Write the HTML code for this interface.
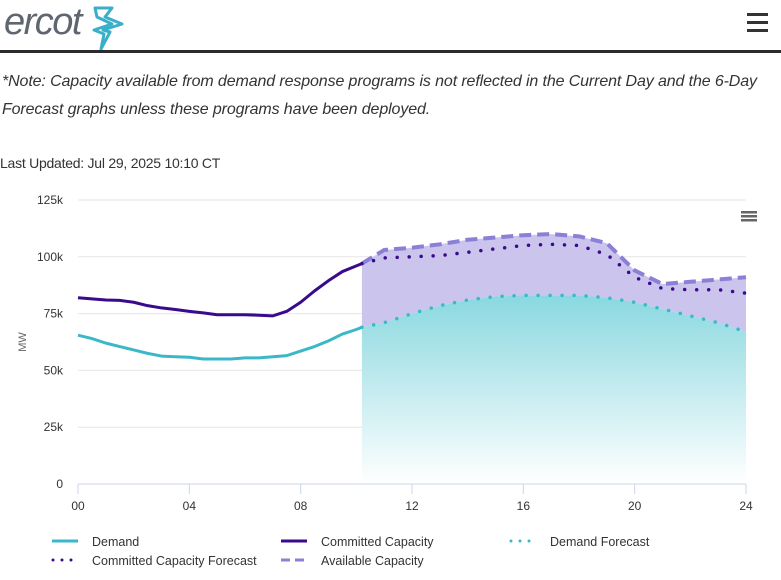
<!DOCTYPE html>
<html><head><meta charset="utf-8"><style>
body{margin:0;width:781px;height:580px;overflow:hidden;background:#fff;font-family:"Liberation Sans",sans-serif;position:relative}
.logo{position:absolute;left:4px;top:-1px;font-style:italic;font-size:38px;color:#5f6670;letter-spacing:-1.5px;line-height:46px}
.logoicon{position:absolute;left:92px;top:6px}
.rule{position:absolute;left:0;top:50px;width:781px;height:3px;background:#2b2b2b}
.menu{position:absolute;left:747px;top:13px;width:21px}
.menu div{height:3px;background:#333;margin-bottom:5px}
.note{position:absolute;left:2px;top:68px;font-style:italic;font-size:16px;line-height:28px;color:#333;width:779px;letter-spacing:-0.12px}
.upd{position:absolute;left:0;top:155px;font-size:14px;color:#333;letter-spacing:-0.25px}
svg#chart{position:absolute;left:0;top:0}
</style></head><body>
<div class="logo">ercot</div>
<svg class="logoicon" width="36" height="46" viewBox="0 0 36 46"><path d="M3 2 L20 2 L13 11 L30 18 L11 24 L18 26 L9 43 L12 28 L2 24 L20 18 L5 11 Z" fill="none" stroke="#3aafc9" stroke-width="3" stroke-linejoin="round"/></svg>
<div class="rule"></div>
<div class="menu"><div></div><div></div><div></div></div>
<div class="note">*Note: Capacity available from demand response programs is not reflected in the Current Day and the 6-Day Forecast graphs unless these programs have been deployed.</div>
<div class="upd">Last Updated: Jul 29, 2025 10:10 CT</div>
<svg id="chart" width="781" height="580"></svg>
<script>
const xTicks=[0,4,8,12,16,20,24];
const xLabels=["00","04","08","12","16","20","24"];
const yTicks=[0,25,50,75,100,125];
const yLabels=["0","25k","50k","75k","100k","125k"];
const demandHours=[0,0.5,1,1.5,2,2.5,3,3.5,4,4.5,5,5.5,6,6.5,7,7.5,8,8.5,9,9.5,10,10.2];
const demandVals=[65.5,64,62,60.5,59,57.5,56.3,56,55.8,55,55,55,55.5,55.5,56,56.5,58.5,60.5,63,66,68,69];
const committedHours=[0,0.5,1,1.5,2,2.5,3,3.5,4,4.5,5,5.5,6,6.5,7,7.5,8,8.5,9,9.5,10,10.2];
const committedVals=[82,81.5,81,80.8,80,78.5,77.5,76.8,76,75.3,74.5,74.5,74.5,74.3,74,76,80,85,89.5,93.5,96,97];
const fcHours=[10.2,11,12,13,14,15,16,17,18,19,20,21,22,23,24];
const demandFc=[69,71,75,78.5,81,82.5,83,83,83,82,80,77,74,71,67];
const committedFc=[97,99.5,100,100.5,102,103.5,105,105.5,105,101,91,86,85.5,85.5,84];
const availableFc=[97,103,104,105.5,107.5,108.5,109.5,110,109,106,94,88,89,90,91];
const X=h=>78+h*(668/24), Y=v=>484-v*2.272;
const svg=document.getElementById('chart');const NS="http://www.w3.org/2000/svg";
function mk(t,a,p){const e=document.createElementNS(NS,t);for(const k in a)e.setAttribute(k,a[k]);(p||svg).appendChild(e);return e;}
const defs=mk('defs',{});
const g=mk('linearGradient',{id:'tg',x1:0,y1:0,x2:0,y2:1},defs);
mk('stop',{offset:'0','stop-color':'#8ad8e0'},g);mk('stop',{offset:'1','stop-color':'#ffffff'},g);
yTicks.forEach((v,i)=>{
 if(v>0){const l=mk('line',{x1:78,x2:746,y1:Y(v),y2:Y(v),stroke:'#e6e6e6'});
 }
 const t=mk('text',{x:63,y:Y(v)+4,'text-anchor':'end','font-size':12,fill:'#333'});t.textContent=yLabels[i];
 
});
xTicks.forEach((h,i)=>{
 const t=mk('text',{x:X(h),y:510,'text-anchor':'middle','font-size':12,fill:'#333'});t.textContent=xLabels[i];
 
 const tk=mk('line',{x1:X(h),x2:X(h),y1:484,y2:494,stroke:'#ccd6eb'});
 
});
const yt=mk('text',{x:26,y:342,'text-anchor':'middle','font-size':11,fill:'#666',transform:'rotate(-90 26 342)'});yt.textContent='MW';

const pts=(hs,vs)=>hs.map((h,i)=>X(h)+','+Y(vs[i]));
let pa=pts(fcHours,availableFc).concat(pts(fcHours,demandFc).reverse());
const pArea=mk('polygon',{points:pa.join(' '),fill:'#cbc4ec'});

let ta=pts(fcHours,demandFc).concat([X(24)+','+Y(0),X(fcHours[0])+','+Y(0)]);
const tArea=mk('polygon',{points:ta.join(' '),fill:'url(#tg)'});

const ax=mk('line',{x1:78,x2:746,y1:484,y2:484,stroke:'#ccd6eb'});

function line(hs,vs,st,name){const p=mk('polyline',Object.assign({points:pts(hs,vs).join(' '),fill:'none','stroke-linejoin':'round'},st));
 }
line(fcHours,availableFc,{stroke:'#8b7fd6','stroke-width':4,'stroke-dasharray':'12 6'},'available-capacity-line');
line(fcHours,committedFc,{stroke:'#3a0a8c','stroke-width':3.5,'stroke-dasharray':'0 12','stroke-linecap':'round'},'committed-capacity-forecast-line');
line(fcHours,demandFc,{stroke:'#3ab8c8','stroke-width':3.5,'stroke-dasharray':'0 12','stroke-linecap':'round'},'demand-forecast-line');
line(demandHours,demandVals,{stroke:'#3ab8c8','stroke-width':3},'demand-line');
line(committedHours,committedVals,{stroke:'#3a0a8c','stroke-width':3},'committed-capacity-line');
[212,216,220].forEach(y=>{const r=mk('rect',{x:741,y:y-1,width:16,height:2.5,fill:'#666'});});
const leg=[[52,541,'Demand','solid','#3ab8c8'],[281,541,'Committed Capacity','solid','#3a0a8c'],[510,541,'Demand Forecast','dot','#3ab8c8'],
[52,560,'Committed Capacity Forecast','dot','#3a0a8c'],[281,560,'Available Capacity','dash','#8b7fd6']];
leg.forEach(d=>{const [x,y,txt,type,c]=d;
 const st={x1:x,x2:x+26,y1:y,y2:y,stroke:c,'stroke-width':3};
 if(type==='dot'){st['stroke-dasharray']='0 9';st['stroke-linecap']='round';st.x1=x+1;}
 if(type==='dash'){st['stroke-dasharray']='9 5';}
 const l=mk('line',st);
 const t=mk('text',{x:x+40,y:y+5,'font-size':12.5,fill:'#333'});t.textContent=txt;
 });
</script>
</body></html>
